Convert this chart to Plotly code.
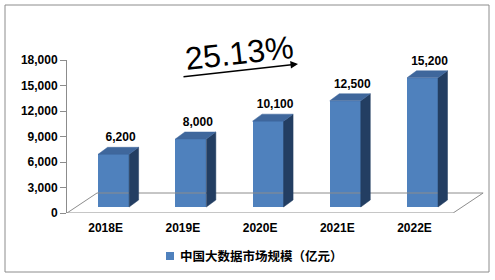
import plotly.graph_objects as go

categories = ["2018E", "2019E", "2020E", "2021E", "2022E"]
values = [6200, 8000, 10100, 12500, 15200]
value_labels = ["6,200", "8,000", "10,100", "12,500", "15,200"]
y_ticks = [0, 3000, 6000, 9000, 12000, 15000, 18000]
series_name = "中国大数据市场规模（亿元）"
growth_text = "25.13%"

# geometry (in axis units)
PX_X = 77.2            # px per category
PX_Y = 18000 / 153.0   # data units per px
off = 8 / PX_X         # front face offset from category centre
bw = 31 / PX_X         # bar width
dx = 9.5 / PX_X        # depth x
dy = 7 * PX_Y          # depth y
base = 6 * PX_Y
fdx = 30 / PX_X        # floor depth
fdy = 20 * PX_Y

FRONT = "#4F81BD"
SIDE = "#233E62"
TOP = "#3F679C"
GRID = "#8C8C8C"

W_PLOT = 417.0
H_PLOT = 153.0
def px(xp):
    return (xp - 67) / W_PLOT
def py(yp):
    return (213 - yp) / H_PLOT

fig = go.Figure()

n = len(categories)
# floor
fig.add_trace(go.Scatter(
    x=[-0.5, n - 0.5, n - 0.5 + fdx, -0.5 + fdx, -0.5],
    y=[0, 0, fdy, fdy, 0],
    mode="lines", line=dict(color=GRID, width=1),
    showlegend=False, hoverinfo="skip", cliponaxis=False))
# category tick marks on front edge
tx, ty = [], []
for k in range(n + 1):
    tx += [k - 0.5, k - 0.5, None]
    ty += [0, -5 * PX_Y, None]
fig.add_trace(go.Scatter(x=tx, y=ty, mode="lines", line=dict(color=GRID, width=1),
                         showlegend=False, hoverinfo="skip", cliponaxis=False))

xs = [i + off for i in range(n)]
fig.add_trace(go.Bar(
    x=xs, y=values, base=[base] * n, width=bw, name=series_name,
    marker=dict(color=FRONT, line=dict(width=0)), showlegend=False))

for i, v in enumerate(values):
    xl = xs[i] - bw / 2
    xr = xs[i] + bw / 2
    top = base + v
    fig.add_trace(go.Scatter(
        x=[xr, xr + dx, xr + dx, xr, xr], y=[base, base + dy, top + dy, top, base],
        fill="toself", fillcolor=SIDE, mode="lines", line=dict(color=SIDE, width=0.5),
        showlegend=False, hoverinfo="skip", cliponaxis=False))
    fig.add_trace(go.Scatter(
        x=[xl, xr, xr + dx, xl + dx, xl], y=[top, top, top + dy, top + dy, top],
        fill="toself", fillcolor=TOP, mode="lines", line=dict(color=TOP, width=0.5),
        showlegend=False, hoverinfo="skip", cliponaxis=False))

fig.add_trace(go.Scatter(
    x=[x + 7 / PX_X for x in xs], y=[v + 22 * PX_Y for v in values],
    mode="text", text=value_labels, textposition="middle center",
    textfont=dict(family="Liberation Sans", size=12, color="black", weight="bold"),
    showlegend=False, hoverinfo="skip", cliponaxis=False))

# growth annotation
fig.add_annotation(x=px(239), y=py(53), xref="paper", yref="paper", text=growth_text,
                   showarrow=False, textangle=-6.5, xanchor="center", yanchor="middle",
                   font=dict(family="Liberation Sans", size=32, color="black"))
fig.add_annotation(x=px(298), y=py(64), ax=182 - 298, ay=77 - 64, xref="paper", yref="paper",
                   axref="pixel", ayref="pixel", text="", showarrow=True,
                   arrowhead=2, arrowsize=1, arrowwidth=1.5, arrowcolor="black")

# legend (square + label)
fig.add_shape(type="rect", xref="paper", yref="paper",
              x0=px(166), x1=px(174), y0=py(260), y1=py(252),
              line=dict(width=0), fillcolor=FRONT)
fig.add_annotation(x=px(178), y=py(256), xref="paper", yref="paper", text="<b>" + series_name + "</b>",
                   showarrow=False, xanchor="left", yanchor="middle",
                   font=dict(family="Noto Sans CJK SC", size=12.5, color="black"))

fig.add_shape(type="rect", xref="paper", yref="paper",
              x0=px(5), x1=px(489), y0=py(272), y1=py(5),
              line=dict(color="#8C8C8C", width=1), fillcolor="rgba(0,0,0,0)", layer="below")

fig.update_layout(
    width=495, height=280,
    margin=dict(l=67, r=11, t=60, b=67),
    plot_bgcolor="white", paper_bgcolor="white",
    bargap=0,
    showlegend=False,
    xaxis=dict(range=[-0.5, n - 0.5 + 0.4], tickvals=list(range(n)), ticktext=categories,
               showline=False, showgrid=False, zeroline=False, ticks="",
               ticklabelstandoff=6,
               tickfont=dict(family="Liberation Sans", size=12, color="black", weight="bold")),
    yaxis=dict(range=[0, 18000], tickvals=y_ticks, tickformat=",",
               showline=True, linecolor=GRID, linewidth=1, showgrid=False, zeroline=False,
               ticks="outside", ticklen=6, tickcolor=GRID,
               tickfont=dict(family="Liberation Sans", size=12, color="black", weight="bold")),
)

fig.write_html("out.html")
